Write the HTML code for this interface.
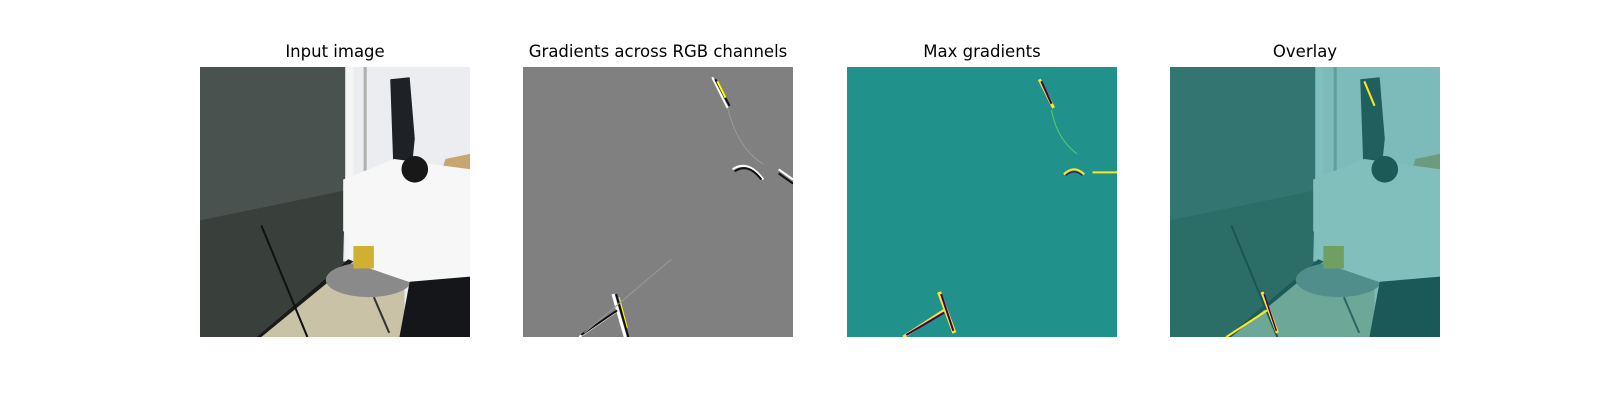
<!DOCTYPE html>
<html><head><meta charset="utf-8"><style>
body{margin:0;background:#fff;width:1600px;height:400px;overflow:hidden;font-family:"Liberation Sans","DejaVu Sans",sans-serif}
.t{position:absolute;top:42px;width:270px;text-align:center;font-size:16.5px;color:#000;font-family:"DejaVu Sans","Liberation Sans",sans-serif}
svg.p{position:absolute;top:67px;width:270px;height:270px}
</style></head><body>
<svg width="0" height="0" style="position:absolute"><defs>
<g id="scene">
<rect x="0" y="0" width="264" height="264" fill="#c9c2a6"/>
<polygon points="0,0 145,0 145,188 55,264 0,264" fill="#39403b"/>
<polygon points="0,0 145,0 145,120 0,150" fill="#4a5250"/>
<polygon points="145,0 264,0 264,264 200,264 200,190 140,190" fill="#ecedf0"/>
<rect x="142" y="0" width="8" height="188" fill="#f5f5f5"/>
<rect x="160" y="0" width="3" height="180" fill="#b0b0b0"/>
<polygon points="145,188 150,190 60,264 55,264" fill="#1a1a1a"/>
<polygon points="240,90 264,85 264,130 230,120" fill="#c9a670"/>
<path d="M186,12 L205,10 L210,70 L205,120 L190,125 Z" fill="#1e2226"/>
<ellipse cx="165" cy="208" rx="42" ry="17" fill="#8a8a8a"/>
<path d="M140,110 L190,90 L264,100 L264,210 L210,212 L160,195 L140,160 Z" fill="#f7f7f7"/>
<circle cx="210" cy="100" r="13" fill="#181818"/>
<rect x="150" y="175" width="20" height="22" fill="#d0b030"/>
<polygon points="205,210 264,205 264,264 195,264" fill="#14161a"/>
<line x1="60" y1="155" x2="105" y2="264" stroke="#111" stroke-width="2"/>
<line x1="170" y1="225" x2="185" y2="260" stroke="#333" stroke-width="2"/>
</g>
</defs></svg>

<div class="t" style="left:200px">Input image</div>
<svg class="p" style="left:200px" viewBox="0 0 264 264" preserveAspectRatio="none"><use href="#scene"/></svg>

<div class="t" style="left:523px">Gradients across RGB channels</div>
<svg class="p" style="left:523px" viewBox="0 0 264 264" preserveAspectRatio="none">
<rect width="264" height="264" fill="#808080"/>
<g fill="none" stroke-width="2">
<path d="M185,10 L200,40" stroke="#fff"/><path d="M188,12 L202,38" stroke="#111"/><path d="M190,14 L198,30" stroke="#ff0"/>
<path d="M200,40 Q210,80 235,95" stroke="#999" stroke-width="1"/>
<path d="M205,100 Q220,90 235,110" stroke="#fff"/><path d="M207,102 Q220,93 233,110" stroke="#111"/>
<path d="M250,100 L264,110" stroke="#fff"/><path d="M250,104 L264,114" stroke="#111"/>
<path d="M88,222 L100,264" stroke="#fff" stroke-width="3"/><path d="M91,222 L103,264" stroke="#111" stroke-width="2"/><path d="M94,225 L102,255" stroke="#ff0" stroke-width="1"/>
<path d="M55,264 L90,240" stroke="#fff"/><path d="M57,262 L92,238" stroke="#111"/>
<path d="M60,260 L145,188" stroke="#999" stroke-width="1"/>
</g></svg>

<div class="t" style="left:847px">Max gradients</div>
<svg class="p" style="left:847px" viewBox="0 0 264 264" preserveAspectRatio="none">
<rect width="264" height="264" fill="#21918c"/>
<g fill="none" stroke-width="2">
<path d="M188,12 L202,40" stroke="#fde725" stroke-width="3"/><path d="M190,14 L200,36" stroke="#440154"/>
<path d="M200,42 Q205,70 225,85" stroke="#5ec962" stroke-width="1"/>
<path d="M212,105 Q222,95 232,105" stroke="#fde725"/><path d="M214,106 Q222,99 230,106" stroke="#440154" stroke-width="1"/>
<path d="M240,103 L264,103" stroke="#fde725"/>
<path d="M90,220 L105,260" stroke="#fde725" stroke-width="4"/><path d="M92,222 L104,258" stroke="#440154" stroke-width="2"/>
<path d="M55,264 L95,238" stroke="#fde725" stroke-width="3"/><path d="M58,262 L95,240" stroke="#440154"/>
</g></svg>

<div class="t" style="left:1170px">Overlay</div>
<svg class="p" style="left:1170px" viewBox="0 0 264 264" preserveAspectRatio="none">
<use href="#scene"/>
<rect width="264" height="264" fill="#21918c" opacity="0.55"/>
<g fill="none">
<path d="M190,14 L200,38" stroke="#fde725" stroke-width="2"/>
<path d="M90,220 L105,260" stroke="#fde725" stroke-width="3"/><path d="M92,222 L104,258" stroke="#440154" stroke-width="1.5"/>
<path d="M55,264 L95,238" stroke="#fde725" stroke-width="2"/>
</g></svg>
</body></html>
